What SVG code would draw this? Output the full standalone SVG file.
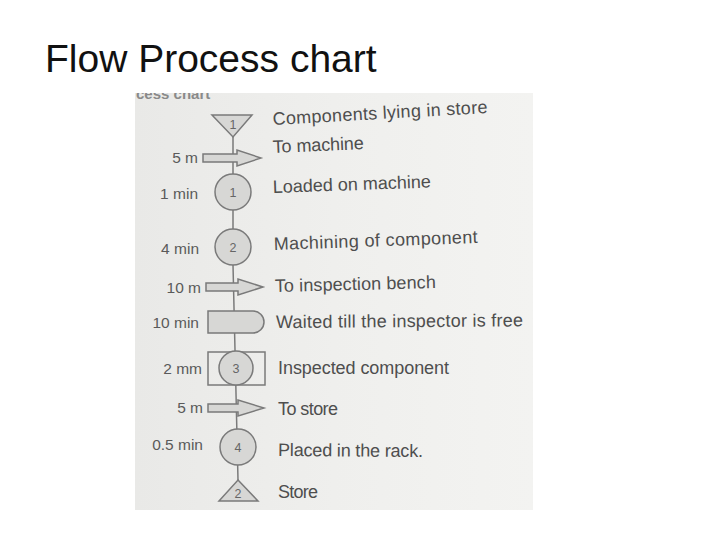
<svg xmlns="http://www.w3.org/2000/svg" width="720" height="540" viewBox="0 0 720 540">
<style>
.title{font-family:"Liberation Sans",Arial,sans-serif;font-size:39px;fill:#111}
.lbl{font-family:"Liberation Sans",Arial,sans-serif;font-size:15.5px;fill:#5a5a5a;text-anchor:end}
.desc{font-family:"Liberation Sans",Arial,sans-serif;font-size:18px;fill:#4e4e4e}
.num{font-family:"Liberation Sans",Arial,sans-serif;font-size:12.5px;fill:#666;text-anchor:middle}
.sym{fill:#d7d7d5;stroke:#7a7a7a;stroke-width:1.5}
.box{fill:none;stroke:#7a7a7a;stroke-width:1.5}
.flow{fill:none;stroke:#7a7a7a;stroke-width:1.5}
</style>
<defs>
<linearGradient id="paper" x1="0" y1="0" x2="1" y2="0">
<stop offset="0" stop-color="#e9e9e7"/>
<stop offset="0.5" stop-color="#efefed"/>
<stop offset="1" stop-color="#f3f3f1"/>
</linearGradient>
<clipPath id="photo"><rect x="135" y="93" width="398" height="417"/></clipPath>
</defs>
<rect width="720" height="540" fill="#ffffff"/>
<text class="title" x="45" y="72">Flow Process chart</text>
<rect id="photo-bg" x="135" y="93" width="398" height="417" fill="url(#paper)"/>
<g clip-path="url(#photo)">
<text x="136" y="99" font-family="Liberation Sans, Arial, sans-serif" font-size="15" font-weight="bold" fill="#8a8a8a">cess chart</text>
</g>
<g id="connectors">
<path class="flow" d="M233,137 L233,265 L235,350 L238,480"/>
</g>
<g id="storage1">
<polygon class="sym" points="212,115 252,115 233,137"/>
<text class="num" x="233" y="129">1</text>
<text class="desc" x="273" y="125" transform="rotate(-3.2 273 125)" textLength="215">Components lying in store</text>
</g>
<g id="transport1">
<path class="sym" d="M203,154 H237 V150 L261,158 L237,166 V162 H203 Z"/>
<text class="lbl" x="198" y="163">5 m</text>
<text class="desc" x="273" y="153" transform="rotate(-2.5 273 153)" textLength="91">To machine</text>
</g>
<g id="operation1">
<circle class="sym" cx="233" cy="192" r="18"/>
<text class="num" x="233" y="196.5">1</text>
<text class="lbl" x="198" y="199">1 min</text>
<text class="desc" x="273" y="193" transform="rotate(-2 273 193)" textLength="158">Loaded on machine</text>
</g>
<g id="operation2">
<circle class="sym" cx="233" cy="247" r="18"/>
<text class="num" x="233" y="251.5">2</text>
<text class="lbl" x="199" y="254">4 min</text>
<text class="desc" x="274" y="250" transform="rotate(-2 274 250)" textLength="204">Machining of component</text>
</g>
<g id="transport2">
<path class="sym" d="M206,283 H238 V279 L263,287 L238,295 V291 H206 Z"/>
<text class="lbl" x="201" y="293">10 m</text>
<text class="desc" x="275" y="292" transform="rotate(-1.4 275 292)" textLength="161">To inspection bench</text>
</g>
<g id="delay1">
<path class="sym" d="M208,311 H253 A11,11 0 0 1 253,333 H208 Z"/>
<text class="lbl" x="199" y="328">10 min</text>
<text class="desc" x="276" y="328" transform="rotate(-0.4 276 328)" textLength="247">Waited till the inspector is free</text>
</g>
<g id="inspection1">
<rect class="box" x="208" y="352" width="57" height="33"/>
<circle class="sym" cx="236" cy="368" r="17"/>
<text class="num" x="236" y="372.5">3</text>
<text class="lbl" x="202" y="374">2 mm</text>
<text class="desc" x="278" y="374" textLength="171">Inspected component</text>
</g>
<g id="transport3">
<path class="sym" d="M208,404 H238 V400 L264,408 L238,416 V412 H208 Z"/>
<text class="lbl" x="203" y="413">5 m</text>
<text class="desc" x="278" y="415" textLength="60">To store</text>
</g>
<g id="operation4">
<circle class="sym" cx="238" cy="447" r="18"/>
<text class="num" x="238" y="451.5">4</text>
<text class="lbl" x="203" y="450">0.5 min</text>
<text class="desc" x="278" y="456" transform="rotate(0.4 278 456)" textLength="145">Placed in the rack.</text>
</g>
<g id="storage2">
<polygon class="sym" points="238,480 258,501 219,501"/>
<text class="num" x="238" y="498" font-size="13">2</text>
<text class="desc" x="278" y="498" textLength="40">Store</text>
</g>
</svg>
